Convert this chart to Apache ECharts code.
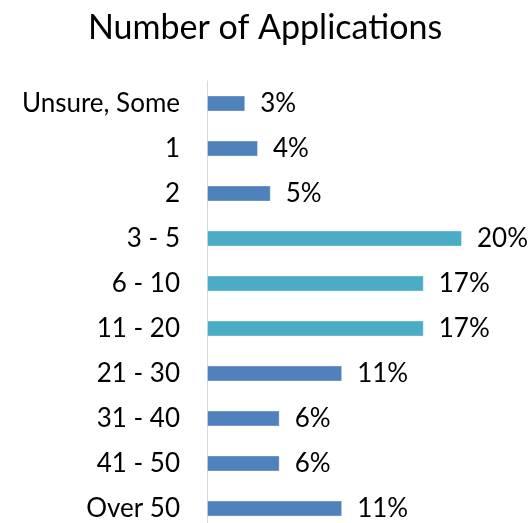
<!DOCTYPE html>
<html>
<head>
<meta charset="utf-8">
<script src="https://cdn.jsdelivr.net/npm/echarts@6/dist/echarts.min.js"></script>
<style>
  html, body { margin: 0; padding: 0; background: #fff; }
  #main { width: 530px; height: 523px; }
</style>
</head>
<body>
<div id="main"></div>
<script>
const categories = ['Unsure, Some', '1', '2', '3 - 5', '6 - 10', '11 - 20', '21 - 30', '31 - 40', '41 - 50', 'Over 50'];
const values = [3, 4, 5, 20, 17, 17, 10.6, 5.7, 5.7, 10.6];
const highlighted = ['3 - 5', '6 - 10', '11 - 20'];

const BLUE = '#4F81BD';
const TEAL = '#4BACC6';
const FONT = 'Lato';

const chart = echarts.init(document.getElementById('main'));

chart.setOption({
  animation: false,
  title: {
    text: 'Number of Applications',
    left: 'center',
    top: 6,
    textStyle: { fontFamily: FONT, fontSize: 34, fontWeight: 'normal', color: '#000' },
  },
  // grid runs past the bottom edge, as in the reference
  grid: { left: 207, top: 81, width: 255, height: 450, outerBoundsMode: 'none', containLabel: false },
  xAxis: {
    type: 'value',
    min: 0,
    max: 20,
    show: false,
  },
  yAxis: {
    type: 'category',
    inverse: true,
    data: categories,
    axisLine: { lineStyle: { color: '#D9D9D9', width: 1 } },
    axisTick: { show: false },
    axisLabel: { fontFamily: FONT, fontSize: 26, color: '#000', margin: 27 },
  },
  series: [
    {
      type: 'bar',
      barWidth: 16,
      data: values.map((v, i) => ({
        value: v,
        itemStyle: { color: highlighted.includes(categories[i]) ? TEAL : BLUE },
      })),
      itemStyle: { borderColor: 'rgba(255,255,255,0.35)', borderWidth: 1 },
      label: {
        show: true,
        position: 'right',
        distance: 15,
        fontFamily: FONT,
        fontSize: 26,
        color: '#000',
        formatter: p => Math.round(p.value) + '%',
      },
    },
  ],
});
</script>
</body>
</html>
